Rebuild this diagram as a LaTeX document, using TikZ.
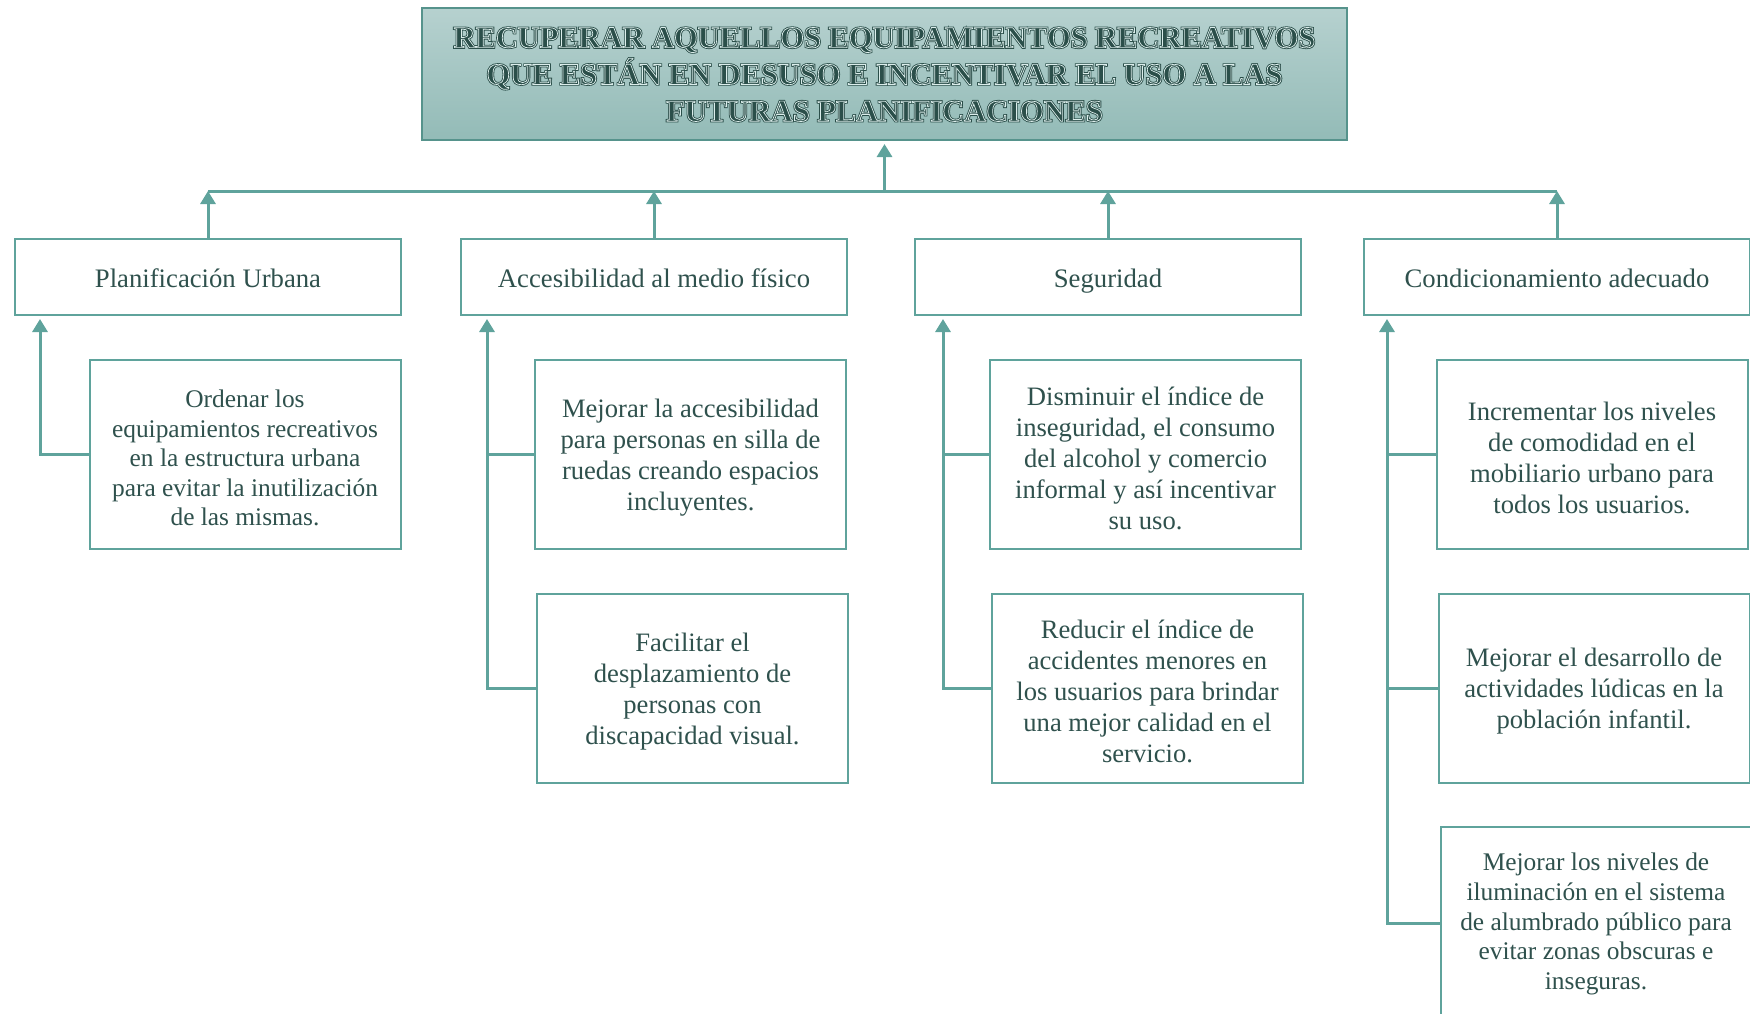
\documentclass[tikz,border=0pt]{standalone}
\usepackage{fontspec}
\setmainfont{Liberation Serif}
\usetikzlibrary{arrows.meta}
\definecolor{teal1}{HTML}{5FA39C}
\definecolor{txt}{HTML}{2F514D}
\definecolor{ttop}{HTML}{B6D1CF}
\definecolor{tbot}{HTML}{93BBB7}
\newcommand\strokedark[1]{\special{pdf:literal direct 2 Tr 2.4 w 0.17 0.31 0.29 RG 0.17 0.31 0.29 rg}#1\special{pdf:literal direct 0 Tr}}
\newcommand\strokelight[1]{\special{pdf:literal direct 1 Tr 0.7 w 0.86 0.93 0.92 RG}#1\special{pdf:literal direct 0 Tr}}
\newcommand\titletext{RECUPERAR AQUELLOS EQUIPAMIENTOS RECREATIVOS\\QUE ESTÁN EN DESUSO E INCENTIVAR EL USO A LAS\\FUTURAS PLANIFICACIONES}
% box with its text placed slightly below the centre
\newcommand\boxtwo[4][]{%
  \node[lvltwo,#1] (#2) at (#3) {};
  \node[ttext,#1,draw=none,fill=none,minimum width=0pt,minimum height=0pt] (#2t) at ([yshift=-3.5pt]#2.center) {#4};}
\begin{document}
\begin{tikzpicture}[x=1pt,y=-1pt,
  box/.style={draw=teal1, line width=2pt, fill=white, text=txt, align=center, inner sep=0pt,
    font=\fontsize{26.6}{31}\selectfont},
  ttext/.style={text=txt, align=center, inner sep=0pt, font=\fontsize{26.6}{31}\selectfont},
  lvlone/.style={box, minimum width=386pt, minimum height=76pt, text height=27pt, text depth=6pt,
    font=\fontsize{26.7}{31}\selectfont},
  lvltwo/.style={box, minimum width=311pt, minimum height=189pt},
  small/.style={font=\fontsize{25.4}{29.6}\selectfont},
  arr/.style={draw=teal1, line width=3pt, line join=miter, -{Triangle[width=15pt,length=13pt]}},
  ln/.style={draw=teal1, line width=3pt},
  ttl/.style={align=center, inner sep=0pt, font=\fontsize{30.4}{36.8}\selectfont\bfseries}]
\useasboundingbox (0,0) rectangle (1750,1013);
\clip (0,0) rectangle (1750,1013);

% title
\node[draw=teal1!90!black, line width=2pt, top color=ttop, bottom color=tbot,
  minimum width=925pt, minimum height=132pt] (title) at (884.5,74) {};
\node[ttl] (tdark) at (884.5,74.5) {\strokedark{\titletext}};
\node[ttl] (tlight) at (884.5,74.5) {\strokelight{\titletext}};

% level one
\node[lvlone] (p1) at (208,277) {Planificación Urbana};
\node[lvlone] (p2) at (654,277) {Accesibilidad al medio físico};
\node[lvlone] (p3) at (1108,277) {Seguridad};
\node[lvlone] (p4) at (1557,277) {Condicionamiento adecuado};

% level two
\boxtwo[small]{c1a}{245,454.5}{Ordenar los\\equipamientos recreativos\\en la estructura urbana\\para evitar la inutilización\\de las mismas.}
\boxtwo{c2a}{690.5,454.5}{Mejorar la accesibilidad\\para personas en silla de\\ruedas creando espacios\\incluyentes.}
\boxtwo{c2b}{692.5,688}{Facilitar el\\desplazamiento de\\personas con\\discapacidad visual.}
\boxtwo{c3a}{1145.5,454.5}{Disminuir el índice de\\inseguridad, el consumo\\del alcohol y comercio\\informal y así incentivar\\su uso.}
\boxtwo{c3b}{1147.5,688}{Reducir el índice de\\accidentes menores en\\los usuarios para brindar\\una mejor calidad en el\\servicio.}
\boxtwo{c4a}{1592,454.5}{Incrementar los niveles\\de comodidad en el\\mobiliario urbano para\\todos los usuarios.}
\boxtwo{c4b}{1594,688}{Mejorar el desarrollo de\\actividades lúdicas en la\\población infantil.}
\node[lvltwo, minimum height=192pt] (c4c) at (1596,923) {};
\node[ttext, small] (c4ct) at ([yshift=-1pt]c4c.center) {Mejorar los niveles de\\iluminación en el sistema\\de alumbrado público para\\evitar zonas obscuras e\\inseguras.};

% bus
\coordinate (bus) at (884.5,191);
\draw[ln] (p1.north |- bus) -- (p4.north |- bus);
\draw[arr, shorten >=3pt] (bus) -- (title.south);
\foreach \p in {p1,p2,p3,p4} \draw[arr] (\p.north) -- (\p.north |- bus);

% spines
\coordinate (x1) at ([xshift=26pt,yshift=-3pt]p1.south west);
\coordinate (x2) at ([xshift=27pt,yshift=-3pt]p2.south west);
\coordinate (x3) at ([xshift=29pt,yshift=-3pt]p3.south west);
\coordinate (x4) at ([xshift=24pt,yshift=-3pt]p4.south west);

\draw[arr] (c1a.west) -- (c1a.west -| x1) -- (x1);
\draw[arr] (c2b.west) -- (c2b.west -| x2) -- (x2);
\draw[ln] (c2a.west) -- (c2a.west -| x2);
\draw[arr] (c3b.west) -- (c3b.west -| x3) -- (x3);
\draw[ln] (c3a.west) -- (c3a.west -| x3);
\draw[arr] (c4c.west) -- (c4c.west -| x4) -- (x4);
\draw[ln] (c4a.west) -- (c4a.west -| x4);
\draw[ln] (c4b.west) -- (c4b.west -| x4);
\end{tikzpicture}
\end{document}
